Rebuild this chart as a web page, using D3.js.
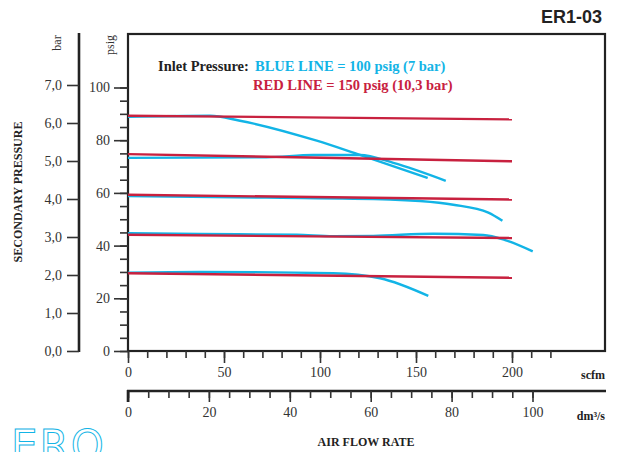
<html>
<head>
  <meta charset="utf-8">
  <title>ER1-03 Secondary Pressure</title>
  <style>
    body { margin: 0; background: #fff; }
    svg text { font-family: "Liberation Serif", "Times New Roman", serif; fill: #333; }
    .axis path { display: none; }
    .axis line { stroke: #333; stroke-width: 1.6; }
    .axis text { font-size: 14px; fill: #333; }
    .lbl { font-weight: bold; font-size: 12px; fill: #222; }
  </style>
  <script src="https://d3js.org/d3.v7.min.js"></script>
</head>
<body>
  <div id="chart"></div>
  <script>
    // Tick labels
    var barTicks = [0, 1, 2, 3, 4, 5, 6, 7];
    var psigTicks = [0, 20, 40, 60, 80, 100];
    var scfmTicks = [0, 50, 100, 150, 200];
    var dm3Ticks = [0, 20, 40, 60, 80, 100];

    // Red lines (150 psig inlet): [scfm, psig]
    var red1 = [[0, 89.3], [200, 87.9]];
    var red2 = [[0, 74.7], [200, 72.0]];
    var red3 = [[0, 59.3], [200, 57.5]];
    var red4 = [[0, 44.1], [200, 42.9]];
    var red5 = [[0, 29.5], [200, 27.8]];

    // Blue lines (100 psig inlet): [scfm, psig]
    var blue1 = [[0, 88.9], [42.7, 89.3], [58.3, 87.4], [98.3, 79.8], [120.8, 74.4], [156.1, 65.7]];
    var blue2 = [[0, 73.3], [72.2, 73.5], [96.4, 74.4], [120.8, 74.4], [138.2, 71.4], [165.5, 64.6]];
    var blue3 = [[0, 58.8], [72.2, 58.2], [136.5, 57.5], [152.1, 56.9], [169.4, 55.5], [187.7, 52.5], [195, 49.4]];
    var blue4 = [[0, 44.7], [37.5, 44.4], [87.9, 44.1], [106.9, 43.6], [127.8, 43.7], [159, 44.5], [185, 44.0], [196.4, 42.1], [210.8, 37.8]];
    var blue5 = [[0, 29.7], [37.5, 30.0], [106.9, 29.5], [131.3, 27.6], [156.4, 20.9]];

    var redLines = [red1, red2, red3, red4, red5];
    var blueLines = [blue1, blue2, blue3, blue4, blue5];

    var BLUE = "#12b4e6", RED = "#c8213f";

    var svg = d3.select("#chart").append("svg")
        .attr("width", 623)
        .attr("height", 452);

    // Scales
    var x = d3.scaleLinear().domain([0, 200]).range([128, 512]);
    var xDm = d3.scaleLinear().domain([0, 100]).range([128, 532.5]);
    var y = d3.scaleLinear().domain([0, 100]).range([351, 87.5]);
    var yBar = d3.scaleLinear().domain([0, 7]).range([351, 85]);

    // Plot frame
    svg.append("rect")
        .attr("x", 128).attr("y", 34)
        .attr("width", 477).attr("height", 317)
        .attr("fill", "none")
        .attr("stroke", "#222")
        .attr("stroke-width", 2.2);

    // bar axis
    svg.append("line")
        .attr("x1", 79).attr("x2", 79)
        .attr("y1", 33).attr("y2", yBar(0) + 1)
        .attr("stroke", "#222").attr("stroke-width", 2.6);
    svg.append("g")
        .attr("class", "axis")
        .attr("transform", "translate(79,0)")
        .call(d3.axisLeft(yBar).tickValues(barTicks).tickSize(12).tickPadding(5)
            .tickFormat(function(d) { return d3.format(".1f")(d).replace(".", ","); }));

    // psig axis, minor ticks every 5
    svg.append("g")
        .attr("class", "axis")
        .attr("transform", "translate(128,0)")
        .call(d3.axisLeft(y).tickValues(d3.range(0, 101, 5)).tickSize(8).tickFormat(""));
    svg.append("g")
        .attr("class", "axis")
        .attr("transform", "translate(128,0)")
        .call(d3.axisLeft(y).tickValues(psigTicks).tickSize(14).tickPadding(4));

    // scfm axis
    svg.append("g")
        .attr("class", "axis")
        .attr("transform", "translate(0,351)")
        .call(d3.axisBottom(x).tickValues(d3.range(0, 221, 10)).tickSize(7).tickFormat(""));
    svg.append("g")
        .attr("class", "axis")
        .attr("transform", "translate(0,351)")
        .call(d3.axisBottom(x).tickValues(scfmTicks).tickSize(12).tickPadding(4));

    // dm3/s axis
    svg.append("line")
        .attr("x1", 127).attr("x2", 606)
        .attr("y1", 391).attr("y2", 391)
        .attr("stroke", "#222").attr("stroke-width", 2.6);
    svg.append("g")
        .attr("class", "axis")
        .attr("transform", "translate(0,391)")
        .call(d3.axisBottom(xDm).tickValues(d3.range(0, 101, 5)).tickSize(7).tickFormat(""));
    svg.append("g")
        .attr("class", "axis")
        .attr("transform", "translate(0,391)")
        .call(d3.axisBottom(xDm).tickValues(dm3Ticks).tickSize(11).tickPadding(5));
    svg.append("line")
        .attr("x1", 128).attr("x2", 128)
        .attr("y1", 390).attr("y2", 402)
        .attr("stroke", "#222").attr("stroke-width", 2.6);

    // Lines
    var line = d3.line()
        .x(function(d) { return x(d[0]); })
        .y(function(d) { return y(d[1]); })
        .curve(d3.curveMonotoneX);

    svg.selectAll(".blue")
        .data(blueLines)
        .enter().append("path")
        .attr("class", "blue")
        .attr("d", line)
        .attr("fill", "none")
        .attr("stroke", BLUE)
        .attr("stroke-width", 2.4);

    svg.selectAll(".red")
        .data(redLines)
        .enter().append("path")
        .attr("class", "red")
        .attr("d", line)
        .attr("fill", "none")
        .attr("stroke", RED)
        .attr("stroke-width", 2.4);

    // Legend
    svg.append("text")
        .attr("x", 158).attr("y", 71)
        .style("font-weight", "bold").style("font-size", "14.5px").style("fill", "#222")
        .text("Inlet Pressure:");
    svg.append("text")
        .attr("x", 255).attr("y", 71)
        .style("font-weight", "bold").style("font-size", "14.5px").style("fill", BLUE)
        .text("BLUE LINE = 100 psig (7 bar)");
    svg.append("text")
        .attr("x", 253).attr("y", 90)
        .style("font-weight", "bold").style("font-size", "14.5px").style("fill", RED)
        .text("RED LINE = 150 psig (10,3 bar)");

    // Titles and units
    svg.append("text")
        .attr("x", 602).attr("y", 23)
        .attr("text-anchor", "end")
        .style("font-family", "'Liberation Sans', Arial, sans-serif")
        .style("font-weight", "bold").style("font-size", "18px").style("fill", "#222")
        .text("ER1-03");

    svg.append("text")
        .attr("transform", "translate(61,43) rotate(-90)")
        .attr("text-anchor", "middle")
        .style("font-size", "12px")
        .text("bar");
    svg.append("text")
        .attr("transform", "translate(114,45) rotate(-90)")
        .attr("text-anchor", "middle")
        .style("font-size", "12px")
        .text("psig");

    svg.append("text")
        .attr("class", "lbl")
        .attr("transform", "translate(22,192) rotate(-90)")
        .attr("text-anchor", "middle")
        .text("SECONDARY PRESSURE");

    svg.append("text")
        .attr("class", "lbl")
        .attr("x", 605).attr("y", 379)
        .attr("text-anchor", "end")
        .text("scfm");
    svg.append("text")
        .attr("class", "lbl")
        .attr("x", 605).attr("y", 420)
        .attr("text-anchor", "end")
        .text("dm³/s");
    svg.append("text")
        .attr("class", "lbl")
        .attr("x", 366).attr("y", 446)
        .attr("text-anchor", "middle")
        .text("AIR FLOW RATE");

    // Logo (cut at bottom edge, as in the original)
    svg.append("text")
        .attr("x", 11).attr("y", 460)
        .style("font-family", "'DejaVu Sans', sans-serif")
        .style("font-size", "42px")
        .style("letter-spacing", "2px")
        .style("fill", "none")
        .style("stroke", BLUE)
        .style("stroke-width", 1)
        .text("ERO");
  </script>
</body>
</html>
